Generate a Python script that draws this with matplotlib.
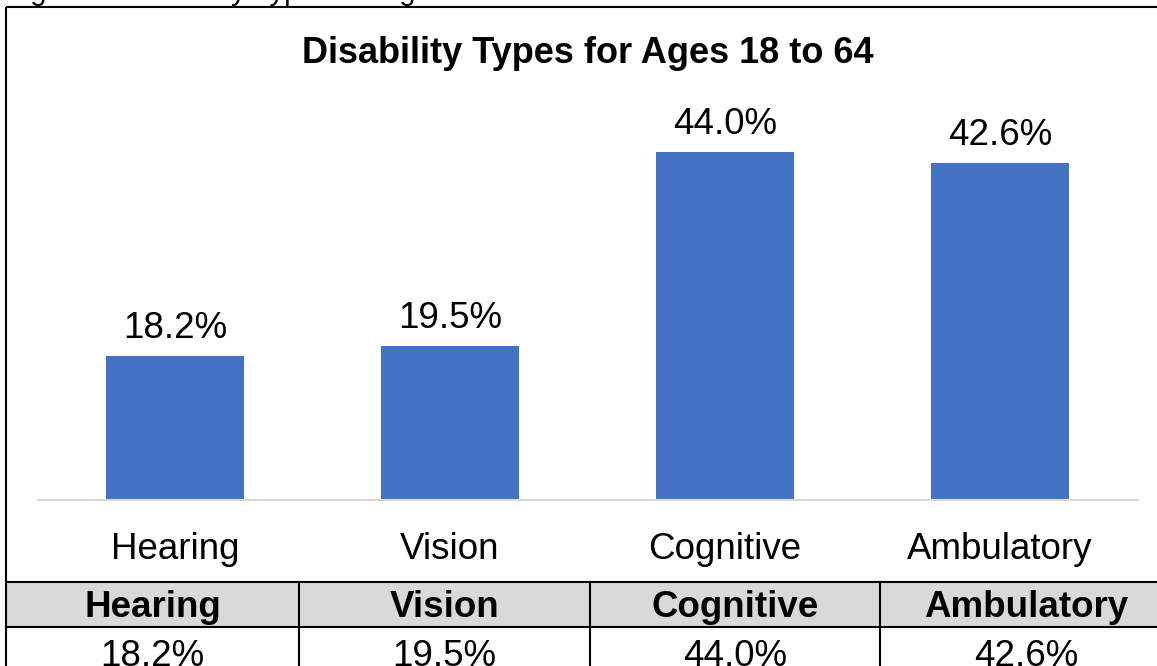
import matplotlib
matplotlib.use('Agg')
import matplotlib.pyplot as plt
from matplotlib.lines import Line2D
from matplotlib.patches import Rectangle
from matplotlib.transforms import offset_copy

plt.rcParams['font.family'] = ['Liberation Sans', 'DejaVu Sans']

categories = ['Hearing', 'Vision', 'Cognitive', 'Ambulatory']
shares = [18.2, 19.5, 44.0, 42.6]
value_labels = ['18.2%', '19.5%', '44.0%', '42.6%']
chart_title = 'Disability Types for Ages 18 to 64'
caption = 'Figure 1: Disability Types for Ages 18 to 64'

W, H = 1157, 666
BAR_COLOR = '#4472C4'
GRID_GRAY = '#D9D9D9'
FS = 26.5

fig = plt.figure(figsize=(W / 100, H / 100), dpi=100)

def fx(px):
    return px / W

def fy(py):
    return 1 - py / H

def hline(x0, x1, y, color='black', lw=1.5):
    fig.add_artist(Line2D([fx(x0), fx(x1)], [fy(y), fy(y)], color=color, lw=lw,
                          transform=fig.transFigure, solid_capstyle='butt'))

def vline(x, y0, y1, color='black', lw=1.5):
    fig.add_artist(Line2D([fx(x), fx(x)], [fy(y0), fy(y1)], color=color, lw=lw,
                          transform=fig.transFigure, solid_capstyle='butt'))

# caption sitting above the frame, mostly cut off by the page edge
fig.text(fx(6), fy(0), caption, fontsize=21, ha='left', va='baseline')

# chart frame
hline(6, 1200, 7)
vline(6, 7, 700)

# bar chart area
ax_left, ax_right, ax_top, ax_bottom = 37.5, 1137.5, 80, 500
ax = fig.add_axes([fx(ax_left), fy(ax_bottom), fx(ax_right - ax_left),
                   (ax_bottom - ax_top) / H])
x = range(len(categories))
bars = ax.bar(x, shares, width=0.5, color=BAR_COLOR, zorder=2)
ax.set_xlim(-0.5, len(categories) - 0.5)
ax.set_ylim(0, 53.1)
for s in ['top', 'right', 'left']:
    ax.spines[s].set_visible(False)
ax.spines['bottom'].set_color(GRID_GRAY)
ax.spines['bottom'].set_linewidth(1.5)
ax.set_xticks([])
ax.set_yticks([])
ax.patch.set_alpha(0)

for rect, lab in zip(bars, value_labels):
    ax.annotate(lab, (rect.get_x() + rect.get_width() / 2, rect.get_height()),
                xytext=(0, 13), textcoords='offset points',
                ha='center', va='baseline', fontsize=FS)

below_axis = offset_copy(ax.transData, fig=fig, x=0, y=-59, units='dots')
for i, cat in enumerate(categories):
    ax.text(i, 0, cat, transform=below_axis, ha='center', va='baseline',
            fontsize=FS)

fig.text(fx(588), fy(63), chart_title, fontsize=26, fontweight='bold',
         ha='center', va='baseline')

# data table under the chart
col_edges = [6, 299, 590, 880, 1172]
head_top, head_bot = 582, 627
fig.add_artist(Rectangle((fx(6), fy(head_bot)), fx(1200), (head_bot - head_top) / H,
                         transform=fig.transFigure, facecolor=GRID_GRAY,
                         edgecolor='none'))
hline(6, 1200, head_top)
hline(6, 1200, head_bot)
for xe in col_edges[1:-1]:
    vline(xe, head_top, 700)
for i, cat in enumerate(categories):
    cx = (col_edges[i] + col_edges[i + 1]) / 2
    fig.text(fx(cx), fy(617), cat, fontsize=FS, fontweight='bold',
             ha='center', va='baseline')
    fig.text(fx(cx), fy(666), value_labels[i], fontsize=FS,
             ha='center', va='baseline')

fig.savefig('out.png', dpi=100)
